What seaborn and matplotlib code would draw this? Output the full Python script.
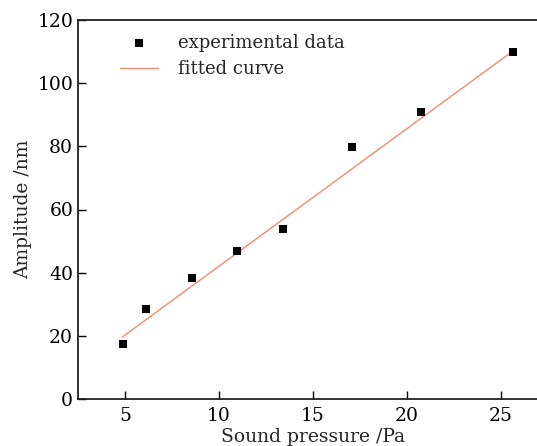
import matplotlib
matplotlib.use("Agg")
import matplotlib.pyplot as plt
import seaborn as sns
import pandas as pd

# Data
pressure = [4.9, 6.1, 8.55, 10.97, 13.42, 17.09, 20.74, 25.64]
amplitude = [17.3, 28.6, 38.4, 46.8, 53.9, 79.7, 90.9, 109.9]
fit_x = [4.85, 25.64]
fit_y = [19.6, 110.2]

xticks = [5, 10, 15, 20, 25]
yticks = [0, 20, 40, 60, 80, 100, 120]

sns.set_theme(style="ticks")
plt.rcParams['font.family'] = ['DejaVu Serif']
plt.rcParams['mathtext.fontset'] = 'dejavuserif'

fig = plt.figure(figsize=(5.37, 4.46), dpi=100)
ax = fig.add_axes([78/537, 1-399/446, 470/537, 379/446])

df = pd.DataFrame({"x": pressure, "y": amplitude})
dfit = pd.DataFrame({"x": fit_x, "y": fit_y})

sns.lineplot(data=dfit, x="x", y="y", ax=ax, color="#f3896d", linewidth=1.0,
             label="fitted curve", zorder=2)
sns.scatterplot(data=df, x="x", y="y", ax=ax, marker="s", s=36, color="black",
                edgecolor="black", linewidth=0, label="experimental data", zorder=3)

ax.set_xlim(2.5, 27.5)
ax.set_ylim(0, 120)
ax.set_xticks(xticks)
ax.set_yticks(yticks)
ax.tick_params(direction="in", length=6, width=1.0, labelsize=13.5, colors="black")
ax.tick_params(axis="x", pad=6)
for sp in ax.spines.values():
    sp.set_linewidth(1.3)
    sp.set_color("#222222")
ax.set_xlabel("Sound pressure /Pa", fontsize=13.5, labelpad=2)
ax.set_ylabel("Amplitude /nm", fontsize=13.5, labelpad=4)

h, l = ax.get_legend_handles_labels()
order = [l.index("experimental data"), l.index("fitted curve")]
ax.legend([h[i] for i in order], [l[i] for i in order], loc="upper left",
          bbox_to_anchor=(0.054, 1.006), frameon=False, fontsize=13,
          handlelength=2.15, handletextpad=1.1, labelspacing=0.45)

fig.savefig("out.png", dpi=100)
